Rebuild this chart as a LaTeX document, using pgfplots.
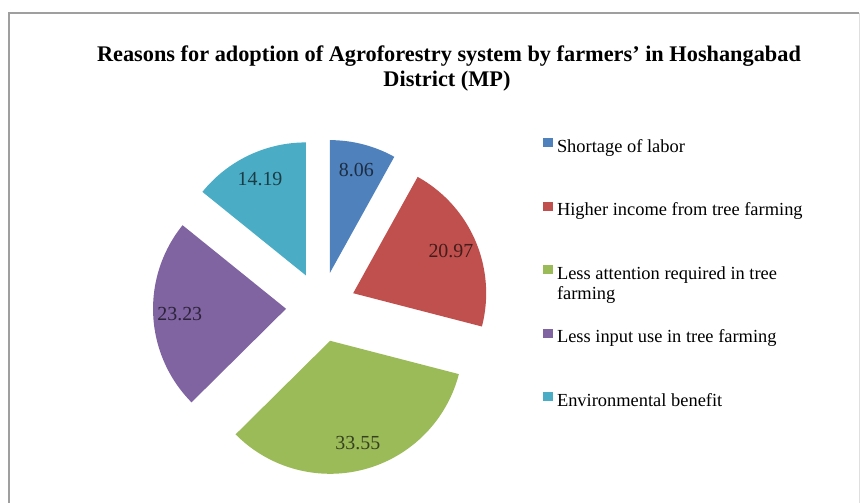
\documentclass[border=0pt]{standalone}
\usepackage{pgfplots}
\pgfplotsset{compat=1.18}
\usepackage{pgfplotstable}
\usepackage{fontspec}
\setmainfont{Liberation Serif}

\definecolor{cA}{HTML}{4F81BD}
\definecolor{cB}{HTML}{C0504D}
\definecolor{cC}{HTML}{9BBB59}
\definecolor{cD}{HTML}{8064A2}
\definecolor{cE}{HTML}{4BACC6}

\pgfplotstableread{
id value
A 8.06
B 20.97
C 33.55
D 23.23
E 14.19
}\piedata

% pie geometry (picture units = pixels)
\def\cx{321}\def\cy{307}\def\R{133}\def\dd{35}\def\lf{0.8}
\xdef\cum{90}
\foreach \i/\n in {0/A,1/B,2/C,3/D,4/E}{%
  \pgfplotstablegetelem{\i}{value}\of\piedata
  \expandafter\xdef\csname v\n\endcsname{\pgfplotsretval}%
  \pgfmathsetmacro\tmpS{\cum}%
  \pgfmathsetmacro\tmpE{\cum-3.6*\pgfplotsretval}%
  \pgfmathsetmacro\tmpM{(\tmpS+\tmpE)/2}%
  \pgfmathsetmacro\tmpTX{\cx+\dd*cos(\tmpM)}%
  \pgfmathsetmacro\tmpTY{\cy-\dd*sin(\tmpM)}%
  \pgfmathsetmacro\tmpLX{\tmpTX+\lf*\R*cos(\tmpM)}%
  \pgfmathsetmacro\tmpLY{\tmpTY-\lf*\R*sin(\tmpM)}%
  \expandafter\xdef\csname s\n\endcsname{\tmpS}%
  \expandafter\xdef\csname e\n\endcsname{\tmpE}%
  \expandafter\xdef\csname tx\n\endcsname{\tmpTX}%
  \expandafter\xdef\csname ty\n\endcsname{\tmpTY}%
  \expandafter\xdef\csname lx\n\endcsname{\tmpLX}%
  \expandafter\xdef\csname ly\n\endcsname{\tmpLY}%
  \xdef\cum{\tmpE}%
}

\newcommand\slice[2]{%
  \edef\doit{\noexpand\addplot[fill=#2, draw=none, domain=\csname e#1\endcsname:\csname s#1\endcsname, samples=120, variable=\noexpand\t]
    ({\csname tx#1\endcsname+\R*cos(\noexpand\t)}, {\csname ty#1\endcsname-\R*sin(\noexpand\t)})
    -- (axis cs:\csname tx#1\endcsname,\csname ty#1\endcsname) -- cycle;}%
  \doit
}
\newcommand\slicelabel[2]{%
  \node[font=\fontsize{20}{22}\selectfont, text=#2!35!black, inner sep=0pt]
    at (axis cs:\csname lx#1\endcsname,\csname ly#1\endcsname) {\csname v#1\endcsname};%
}

\begin{document}
\begin{tikzpicture}
\useasboundingbox (0,0) rectangle (860bp,503bp);
\begin{axis}[
  at={(0,0)}, anchor=south west,
  width=860bp, height=503bp, scale only axis,
  xmin=0, xmax=860, ymin=0, ymax=503, y dir=reverse,
  hide axis, clip=false,
  legend style={at={(axis cs:543,138)}, anchor=north west, draw=none, fill=none,
    inner sep=0pt, outer sep=0pt, row sep=45.5bp, column sep=0pt,
    font=\fontsize{18.5}{21}\selectfont,
    nodes={inner sep=0pt, text height=12bp, text depth=4bp}},
  legend cell align=left,
  legend image code/.code={\fill[#1] (0bp,1bp) rectangle (10bp,10bp);\path (14bp,0bp);},
]
% frame
\draw[gray!75, line width=1.8bp] (axis cs:9,503) -- (axis cs:9,13) -- (axis cs:859,13);
\draw[gray!25, line width=1bp] (axis cs:859,13) -- (axis cs:859,503);

\slice{A}{cA}
\addlegendentry{Shortage of labor}
\slice{B}{cB}
\addlegendentry{Higher income from tree farming}
\slice{C}{cC}
\addlegendentry{\smash{\parbox[t]{250bp}{\raggedright Less attention required in tree\\farming}}}
\slice{D}{cD}
\addlegendentry{Less input use in tree farming}
\slice{E}{cE}
\addlegendentry{Environmental benefit}

\slicelabel{A}{cA}
\slicelabel{B}{cB}
\slicelabel{C}{cC}
\slicelabel{D}{cD}
\slicelabel{E}{cE}

\node[anchor=base, font=\bfseries\fontsize{22.4}{25}\selectfont] at (axis cs:449,62)
  {Reasons for adoption of Agroforestry system by farmers’ in Hoshangabad};
\node[anchor=base, font=\bfseries\fontsize{22.4}{25}\selectfont] at (axis cs:447,87)
  {District (MP)};
\end{axis}
\end{tikzpicture}
\end{document}
